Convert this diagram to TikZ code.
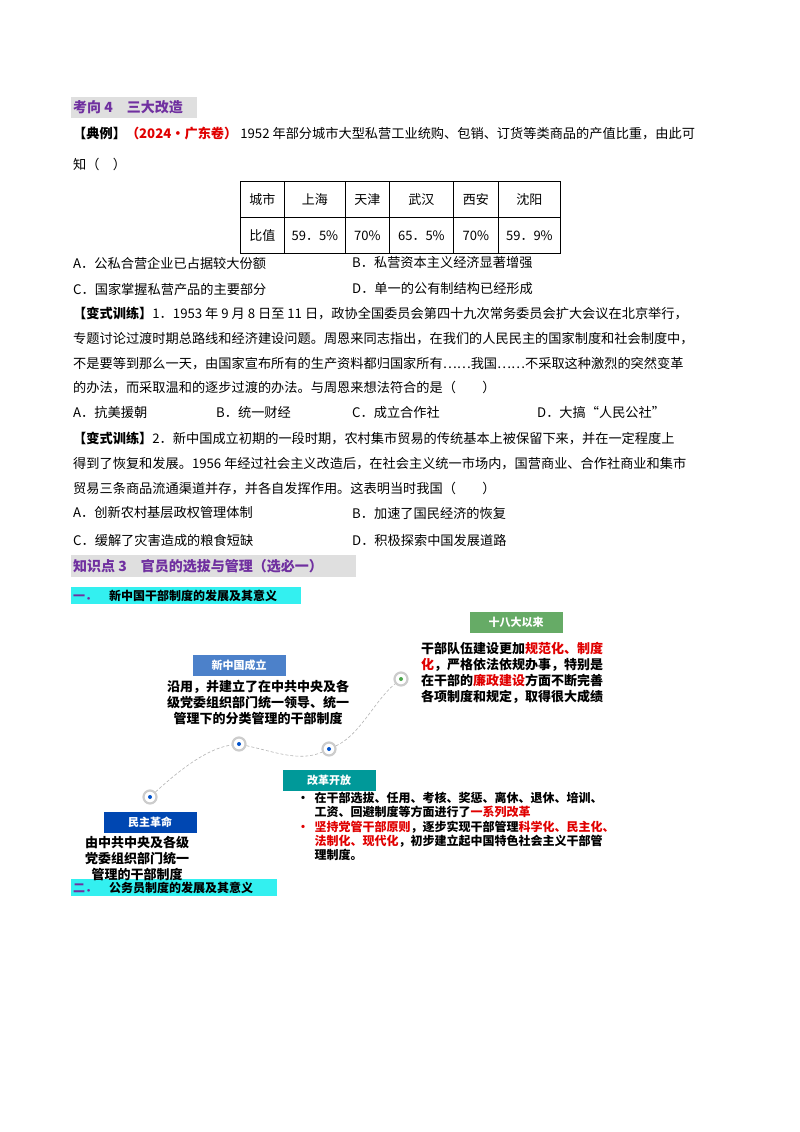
\documentclass[tikz,border=0pt]{standalone}
\usepackage{fontspec}
\setmainfont{Noto Sans CJK SC}
\begin{document}
\begin{tikzpicture}[x=1pt,y=-1pt,
 L/.style={anchor=west,inner sep=0pt,font=\fontsize{13.2}{15}\selectfont},
 H/.style={anchor=west,inner sep=1pt,font=\fontsize{14}{16}\selectfont\bfseries,text=pur},
 D/.style={align=center,inner sep=0pt,font=\fontsize{13}{16}\selectfont\bfseries},
 T/.style={minimum width=93pt,minimum height=21pt,inner sep=0pt,text=white,font=\fontsize{11}{12}\selectfont\bfseries},
 dot/.style={circle,draw=gray!40,line width=2.2pt,fill=white,minimum size=13pt,inner sep=0pt},
 cell/.style={draw,thick,minimum height=36pt,inner sep=0pt,font=\fontsize{13}{15}\selectfont}]
\useasboundingbox (0,0) rectangle (800,1132);
\definecolor{rd}{HTML}{E00000}
\definecolor{pur}{HTML}{7030A0}
\definecolor{cy}{HTML}{33F0F0}
\fill[gray!25] (71,97) rectangle (197,118);
\node[H] (h1) at (72,107) {考向 4\quad 三大改造};
\node[L] (t1) at (73,134) {\textbf{【典例】}\textcolor{rd}{\textbf{（2024·广东卷）}}\ 1952 年部分城市大型私营工业统购、包销、订货等类商品的产值比重，由此可};
\node[L] (t2) at (73,164) {知（\quad ）};
\foreach \x/\w/\a/\b [count=\i] in {240/44/城市/比值,284/61/上海/59．5\%,345/44/天津/70\%,389/64/武汉/65．5\%,453/45/西安/70\%,498/62/沈阳/59．9\%}{
 \node[cell,minimum width=\w pt,anchor=north west] (c\i a) at (\x,181) {\a};
 \node[cell,minimum width=\w pt,anchor=north west] (c\i b) at (\x,217) {\b};}
\node[L] (o1) at (73,263) {A．公私合营企业已占据较大份额};
\node[L] (o2) at (352,263) {B．私营资本主义经济显著增强};
\node[L] (o3) at (73,289) {C．国家掌握私营产品的主要部分};
\node[L] (o4) at (352,289) {D．单一的公有制结构已经形成};
\node[L] (p1) at (73,313) {\textbf{【变式训练】}1．1953 年 9 月 8 日至 11 日，政协全国委员会第四十九次常务委员会扩大会议在北京举行，};
\node[L] (p2) at (73,339) {专题讨论过渡时期总路线和经济建设问题。周恩来同志指出，在我们的人民民主的国家制度和社会制度中，};
\node[L] (p3) at (73,364) {不是要等到那么一天，由国家宣布所有的生产资料都归国家所有……我国……不采取这种激烈的突然变革};
\node[L] (p4) at (73,388) {的办法，而采取温和的逐步过渡的办法。与周恩来想法符合的是（\qquad ）};
\node[L] (q1) at (73,412) {A．抗美援朝};
\node[L] (q2) at (216,412) {B．统一财经};
\node[L] (q3) at (352,412) {C．成立合作社};
\node[L] (q4) at (537,412) {D．大搞“人民公社”};
\node[L] (r1) at (73,438) {\textbf{【变式训练】}2．新中国成立初期的一段时期，农村集市贸易的传统基本上被保留下来，并在一定程度上};
\node[L] (r2) at (73,464) {得到了恢复和发展。1956 年经过社会主义改造后，在社会主义统一市场内，国营商业、合作社商业和集市};
\node[L] (r3) at (73,489) {贸易三条商品流通渠道并存，并各自发挥作用。这表明当时我国（\qquad ）};
\node[L] (s1) at (73,513) {A．创新农村基层政权管理体制};
\node[L] (s2) at (352,513) {B．加速了国民经济的恢复};
\node[L] (s3) at (73,540) {C．缓解了灾害造成的粮食短缺};
\node[L] (s4) at (352,540) {D．积极探索中国发展道路};
\fill[gray!25] (71,555) rectangle (356,577);
\node[H] (h2) at (72,566) {知识点 3\quad 官员的选拔与管理（选必一）};
\fill[cy] (71,587) rectangle (301,604);
\node[L,font=\fontsize{12}{14}\selectfont\bfseries,text=pur] (h3) at (73,596) {一．\quad \textcolor{black}{新中国干部制度的发展及其意义}};
\fill[cy] (71,879) rectangle (277,896);
\node[L,font=\fontsize{12}{14}\selectfont\bfseries,text=pur] (h4) at (73,888) {二．\quad \textcolor{black}{公务员制度的发展及其意义}};
% diagram
\node[dot] (d1) at (150,797) {};
\node[dot] (d2) at (239,744) {};
\node[dot] (d3) at (329,749) {};
\node[dot] (d4) at (401,679) {};
\draw[gray!60,densely dashed,line width=0.6pt] (d1) .. controls (185,765) and (210,748) .. (d2) .. controls (275,752) and (300,762) .. (d3) .. controls (360,735) and (375,700) .. (d4);
\fill[blue!60!cyan!80!black] (d1) circle (2pt);
\fill[blue!60!cyan!80!black] (d2) circle (2pt);
\fill[blue!60!cyan!80!black] (d3) circle (2pt);
\fill[green!50!black!70] (d4) circle (2pt);
\node[T,fill=green!45!black!60] (b4) at (516,622) {十八大以来};
\node[T,fill=cyan!45!blue!75] (b2) at (239,665) {新中国成立};
\node[T,fill=teal!80!cyan] (b3) at (329,780) {改革开放};
\node[T,fill=blue!60!cyan!70!black] (b1) at (150,822) {民主革命};
\node[D,align=left,anchor=north west] (x4) at (421,642) {干部队伍建设更加\textcolor{rd}{规范化、制度}\\\textcolor{rd}{化}，严格依法依规办事，特别是\\在干部的\textcolor{rd}{廉政建设}方面不断完善\\各项制度和规定，取得很大成绩};
\node[D,anchor=north] (x2) at (258,680) {沿用，并建立了在中共中央及各\\级党委组织部门统一领导、统一\\管理下的分类管理的干部制度};
\node[D,anchor=north] (x1) at (137,836) {由中共中央及各级\\党委组织部门统一\\管理的干部制度};
\node[D,align=left,anchor=north west,font=\fontsize{12}{14.2}\selectfont\bfseries] (x3) at (297,792) {·\ \ 在干部选拔、任用、考核、奖惩、离休、退休、培训、\\\phantom{·\ \ }工资、回避制度等方面进行了\textcolor{rd}{一系列改革}\\\textcolor{rd}{·\ \ 坚持党管干部原则}，逐步实现干部管理\textcolor{rd}{科学化、民主化、}\\\phantom{·\ \ }\textcolor{rd}{法制化、现代化}，初步建立起中国特色社会主义干部管\\\phantom{·\ \ }理制度。};
\end{tikzpicture}
\end{document}
